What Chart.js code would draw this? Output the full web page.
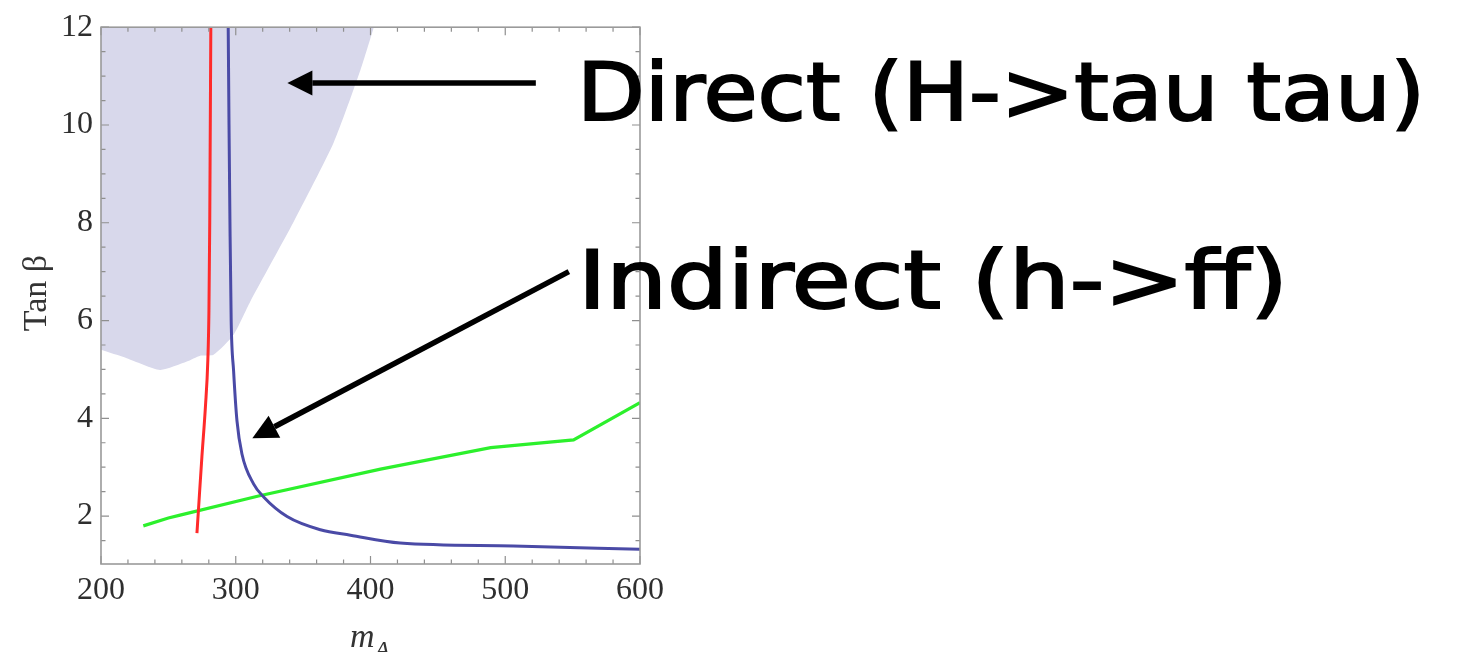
<!DOCTYPE html>
<html>
<head>
<meta charset="utf-8">
<script src="https://cdn.jsdelivr.net/npm/chart.js@4/dist/chart.umd.min.js"></script>
<style>
  html, body { margin: 0; padding: 0; background: #fff; }
  #wrap { position: relative; width: 1460px; height: 652px; }
</style>
</head>
<body>
<div id="wrap"><canvas id="plot"></canvas></div>
<script>
// ------------------------------------------------------------
// Data (m_A vs tan beta)
// ------------------------------------------------------------
const xTickValues = [200, 300, 400, 500, 600];
const yTickValues = [2, 4, 6, 8, 10, 12];

// shaded region: direct search (H -> tau tau), excluded above this edge
const shadeMA   = [200, 219.1, 243.9, 263.7, 273.6, 283.5, 298.4, 310.8, 343, 372.7, 392.6, 402.5];
const shadeTanB = [5.4, 5.23, 4.99, 5.16, 5.28, 5.30, 5.71, 6.39, 8.02, 9.64, 11.13, 12];

const redMA   = [271.2, 272.3, 274.9, 277.5, 279.3, 280.1, 280.7, 281.1, 281.5];
const redTanB = [1.65, 2.12, 3.22, 4.24, 5.2, 6.2, 8, 10, 12];

const blueMA   = [294.4, 295, 295.7, 296.6, 298.4, 300.9, 304.6, 313.2, 320.7, 338.1, 362.8, 385.1, 422, 506, 600];
const blueTanB = [12, 10, 8, 6, 4.97, 3.95, 3.27, 2.66, 2.39, 1.99, 1.72, 1.61, 1.45, 1.39, 1.32];

const greenMA   = [231.4, 250, 258.7, 316.9, 407.4, 489.2, 550.7, 600];
const greenTanB = [1.80, 1.96, 2.02, 2.41, 2.96, 3.40, 3.56, 4.32];

// arrows in data coordinates [tailX, tailY, tipX, tipY]
const arrowDirect   = [522.7, 10.86, 338.3, 10.86];
const arrowIndirect = [547.2, 7.0, 312.3, 3.59];

const toPoints = (xs, ys) => xs.map((x, i) => ({ x: x, y: ys[i] }));

// ------------------------------------------------------------
// Frame with Mathematica-style inward ticks + annotations
// ------------------------------------------------------------
const framePlugin = {
  id: 'frameTicks',
  afterDatasetsDraw(chart) {
    const { ctx, chartArea: a, scales: { x, y } } = chart;
    ctx.save();
    ctx.strokeStyle = '#8f8f8f';
    ctx.lineWidth = 1.2;

    // x ticks (bottom + top)
    for (let v = 200; v <= 600; v += 20) {
      const px = x.getPixelForValue(v);
      const len = xTickValues.includes(v) ? 8 : 4.5;
      ctx.beginPath();
      ctx.moveTo(px, a.bottom); ctx.lineTo(px, a.bottom - len);
      ctx.moveTo(px, a.top); ctx.lineTo(px, a.top + len);
      ctx.stroke();
    }
    // y ticks (left + right)
    for (let v = 1.5; v <= 12; v += 0.5) {
      const py = y.getPixelForValue(v);
      const len = yTickValues.includes(v) ? 8 : 4.5;
      ctx.beginPath();
      ctx.moveTo(a.left, py); ctx.lineTo(a.left + len, py);
      ctx.moveTo(a.right, py); ctx.lineTo(a.right - len, py);
      ctx.stroke();
    }
    ctx.lineWidth = 1.6;
    ctx.strokeStyle = '#9a9a9a';
    ctx.strokeRect(a.left, a.top, a.right - a.left, a.bottom - a.top);
    ctx.restore();
  },
  afterDraw(chart) {
    const { ctx, scales: { x, y } } = chart;
    ctx.save();

    // axis titles
    ctx.fillStyle = '#333';
    ctx.font = '34px "Liberation Serif", serif';
    ctx.textAlign = 'center';
    ctx.textBaseline = 'middle';
    ctx.translate(37, 293);
    ctx.rotate(-Math.PI / 2);
    ctx.fillText('Tan β', 0, 0);
    ctx.setTransform(1, 0, 0, 1, 0, 0);

    ctx.textAlign = 'left';
    ctx.textBaseline = 'alphabetic';
    ctx.font = 'italic 34px "Liberation Serif", serif';
    ctx.fillText('m', 350, 647);
    ctx.font = 'italic 24px "Liberation Serif", serif';
    ctx.fillText('A', 375, 657);

    // arrows
    const arrow = (d) => {
      const x0 = x.getPixelForValue(d[0]), y0 = y.getPixelForValue(d[1]);
      const x1 = x.getPixelForValue(d[2]), y1 = y.getPixelForValue(d[3]);
      const ang = Math.atan2(y1 - y0, x1 - x0);
      const head = 25, half = 12.5;
      const bx = x1 - head * Math.cos(ang), by = y1 - head * Math.sin(ang);
      ctx.strokeStyle = '#000';
      ctx.fillStyle = '#000';
      ctx.lineWidth = 5.5;
      ctx.beginPath();
      ctx.moveTo(x0, y0); ctx.lineTo(bx, by);
      ctx.stroke();
      ctx.beginPath();
      ctx.moveTo(x1, y1);
      ctx.lineTo(bx + half * Math.sin(ang), by - half * Math.cos(ang));
      ctx.lineTo(bx - half * Math.sin(ang), by + half * Math.cos(ang));
      ctx.closePath();
      ctx.fill();
    };
    arrow(arrowDirect);
    arrow(arrowIndirect);

    // hand-written style labels, stretched to the width they take in the figure
    const label = (text, left, right, baseline) => {
      ctx.font = '80px "DejaVu Sans", sans-serif';
      ctx.textAlign = 'left';
      ctx.textBaseline = 'alphabetic';
      const w = ctx.measureText(text).width;
      ctx.save();
      ctx.translate(left, baseline);
      ctx.scale((right - left) / w, 1);
      ctx.fillStyle = '#000';
      ctx.strokeStyle = '#000';
      ctx.lineWidth = 2;
      ctx.fillText(text, 0, 0);
      ctx.strokeText(text, 0, 0);
      ctx.restore();
    };
    label('Direct (H->tau tau)', 577, 1425, 120);
    label('Indirect (h->ff)', 578, 1288, 308);

    ctx.restore();
  }
};

// ------------------------------------------------------------
// Chart
// ------------------------------------------------------------
const tickFont = { family: '"Liberation Serif", serif', size: 32 };

new Chart(document.getElementById('plot'), {
  type: 'scatter',
  data: {
    datasets: [
      {
        label: 'Direct (H->tau tau)',
        data: toPoints(shadeMA, shadeTanB),
        showLine: true,
        borderWidth: 0,
        borderColor: 'rgba(0,0,0,0)',
        backgroundColor: 'rgb(216, 216, 235)',
        fill: 'end',
        pointRadius: 0,
        tension: 0.2,
        order: 10
      },
      {
        label: 'red',
        data: toPoints(redMA, redTanB),
        showLine: true,
        borderColor: '#ff2a2a',
        borderWidth: 3,
        pointRadius: 0,
        cubicInterpolationMode: 'monotone',
        order: 1
      },
      {
        label: 'Indirect (h->ff)',
        data: toPoints(blueMA, blueTanB),
        showLine: true,
        borderColor: '#4a4aa6',
        borderWidth: 3,
        pointRadius: 0,
        cubicInterpolationMode: 'monotone',
        order: 2
      },
      {
        label: 'green',
        data: toPoints(greenMA, greenTanB),
        showLine: true,
        borderColor: '#2cf02c',
        borderWidth: 3.2,
        pointRadius: 0,
        tension: 0,
        order: 3
      }
    ]
  },
  options: {
    responsive: true,
    maintainAspectRatio: false,
    animation: false,
    layout: { padding: { top: 24, right: 820, bottom: 0, left: 0 } },
    plugins: {
      legend: { display: false },
      tooltip: { enabled: false }
    },
    scales: {
      x: {
        type: 'linear',
        min: 200,
        max: 600,
        grid: { display: false, drawTicks: false },
        border: { display: false },
        afterBuildTicks: s => { s.ticks = xTickValues.map(v => ({ value: v })); },
        afterFit: s => { s.height = 88; },
        ticks: { font: tickFont, color: '#2e2e2e', padding: 7, maxRotation: 0 }
      },
      y: {
        type: 'linear',
        min: 1.02,
        max: 12,
        grid: { display: false, drawTicks: false },
        border: { display: false },
        afterBuildTicks: s => { s.ticks = yTickValues.map(v => ({ value: v })); },
        afterFit: s => { s.width = 101; },
        ticks: { font: tickFont, color: '#2e2e2e', padding: 8 }
      }
    }
  },
  plugins: [framePlugin]
});
</script>
</body>
</html>
